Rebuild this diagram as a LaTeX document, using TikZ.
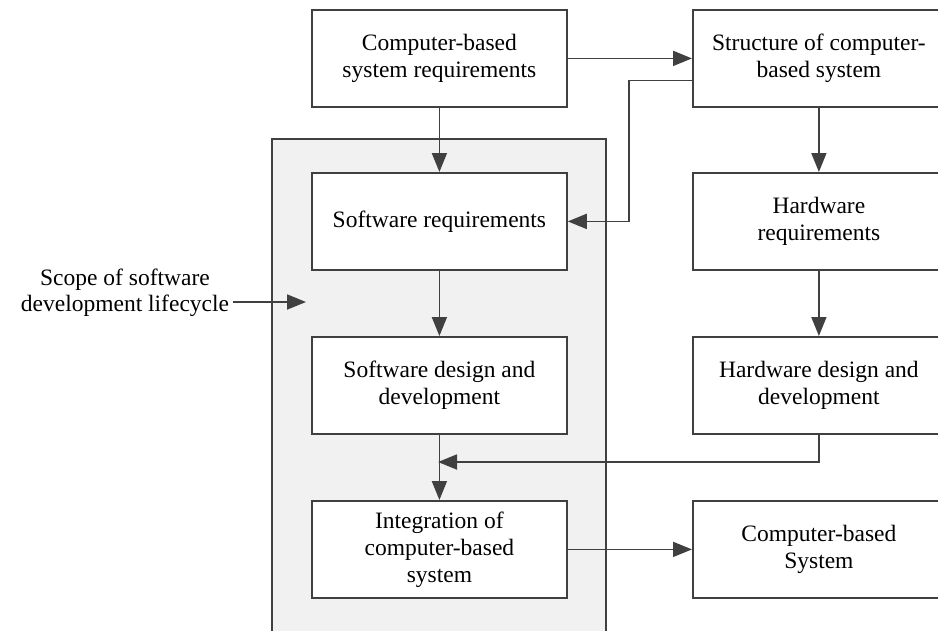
\documentclass[tikz,border=0pt]{standalone}
\usepackage{fontspec}
\setmainfont{Liberation Serif}
\usetikzlibrary{arrows.meta}
\definecolor{linecol}{HTML}{404040}
\definecolor{scopefill}{HTML}{F1F1F1}
\begin{document}
\begin{tikzpicture}[x=1pt,y=-1pt,
  box/.style={draw=linecol, line width=1.8pt, fill=white, anchor=north west,
    minimum height=97pt, inner sep=2pt, align=center,
    font=\fontsize{23.5}{27}\selectfont},
  lbox/.style={box, minimum width=255pt},
  rbox/.style={box, minimum width=252pt},
  arr/.style={draw=linecol, line width=1.8pt,
    -{Triangle[length=19pt,width=15pt]}}]
\useasboundingbox (0,0) rectangle (938,630);

% scope of the software development lifecycle
\filldraw[fill=scopefill, draw=linecol, line width=1.8pt] (272,139) rectangle (606,645);

% left column
\node[lbox] (A) at (311,9) {Computer-based\\system requirements};
\node[lbox] (C) at (311,172) {Software requirements};
\node[lbox] (D) at (311,336) {Software design and\\development};
\node[lbox] (E) at (311,500) {Integration of\\computer-based\\system};

% right column
\node[rbox] (B) at (692,9) {Structure of computer-\\based system};
\node[rbox] (F) at (692,172) {Hardware\\requirements};
\node[rbox] (G) at (692,336) {Hardware design and\\development};
\node[rbox] (H) at (692,500) {Computer-based\\System};

% label for the scope region
\node[align=center, font=\fontsize{23.5}{26}\selectfont] (S) at (125,293)
  {Scope of software\\development lifecycle};
\coordinate (scopein) at (306,302);
\coordinate (merge) at (438,462);

% connectors
\draw[arr] (A.east) -- (B.west);
\draw[arr] ([yshift=-22pt]B.west) -- ++(-63,0) |- (C.east);
\draw[arr] (A.south) -- (C.north);
\draw[arr] (B.south) -- (F.north);
\draw[arr] (C.south) -- (D.north);
\draw[arr] (F.south) -- (G.north);
\draw[arr] (D.south) -- (E.north);
\draw[arr] (G.south) |- (merge);
\draw[arr] (E.east) -- (H.west);
\draw[arr] ([yshift=-9pt]S.east) -- (scopein);
\end{tikzpicture}
\end{document}
